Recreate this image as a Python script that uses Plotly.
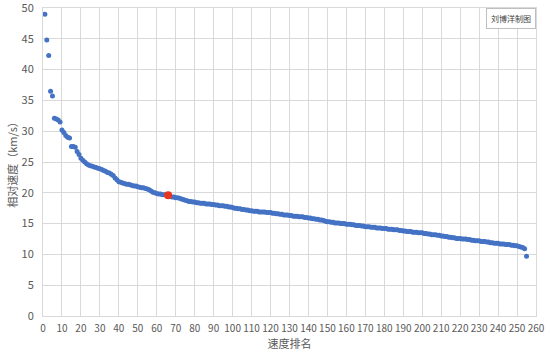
import plotly.graph_objects as go

speeds = [
    49.0, 44.8, 42.3, 36.5, 35.7, 32.1, 32.0, 31.8, 31.5, 30.2,
    29.8, 29.3, 29.0, 28.9, 27.5, 27.5, 27.4, 26.7, 26.2, 25.6,
    25.3, 25.0, 24.7, 24.5, 24.4, 24.3, 24.2, 24.1, 24.0, 23.9,
    23.8, 23.6, 23.5, 23.3, 23.2, 23.0, 22.8, 22.4, 22.1, 21.8,
    21.7, 21.6, 21.5, 21.4, 21.4, 21.3, 21.2, 21.1, 21.1, 21.0,
    20.9, 20.8, 20.8, 20.7, 20.6, 20.5, 20.3, 20.1, 20.0, 19.9,
    19.8, 19.8, 19.7, 19.7, 19.7, 19.6, 19.4, 19.3, 19.3, 19.2,
    19.2, 19.1, 19.0, 18.9, 18.8, 18.7, 18.6, 18.6, 18.5, 18.5,
    18.4, 18.4, 18.3, 18.3, 18.3, 18.2, 18.2, 18.2, 18.1, 18.1,
    18.0, 18.0, 17.9, 17.9, 17.9, 17.8, 17.8, 17.7, 17.7, 17.6,
    17.5, 17.5, 17.4, 17.4, 17.3, 17.3, 17.2, 17.2, 17.1, 17.1,
    17.0, 17.0, 17.0, 16.9, 16.9, 16.9, 16.9, 16.8, 16.8, 16.8,
    16.7, 16.7, 16.6, 16.6, 16.5, 16.5, 16.4, 16.4, 16.4, 16.3,
    16.3, 16.2, 16.2, 16.2, 16.1, 16.1, 16.1, 16.0, 16.0, 15.9,
    15.9, 15.8, 15.8, 15.7, 15.7, 15.6, 15.6, 15.5, 15.4, 15.3,
    15.3, 15.2, 15.2, 15.1, 15.1, 15.1, 15.0, 15.0, 15.0, 14.9,
    14.9, 14.9, 14.8, 14.8, 14.7, 14.7, 14.7, 14.6, 14.6, 14.5,
    14.5, 14.5, 14.4, 14.4, 14.4, 14.3, 14.3, 14.3, 14.2, 14.2,
    14.2, 14.1, 14.1, 14.1, 14.0, 14.0, 14.0, 13.9, 13.9, 13.8,
    13.8, 13.7, 13.7, 13.7, 13.6, 13.6, 13.6, 13.5, 13.5, 13.5,
    13.4, 13.4, 13.3, 13.3, 13.2, 13.2, 13.2, 13.1, 13.1, 13.0,
    13.0, 12.9, 12.9, 12.8, 12.8, 12.7, 12.7, 12.6, 12.6, 12.6,
    12.5, 12.5, 12.5, 12.4, 12.4, 12.3, 12.3, 12.2, 12.2, 12.2,
    12.1, 12.1, 12.1, 12.0, 12.0, 11.9, 11.9, 11.8, 11.8, 11.8,
    11.7, 11.7, 11.7, 11.6, 11.6, 11.6, 11.5, 11.5, 11.4, 11.4,
    11.3, 11.2, 11.1, 10.9, 9.7,
]
ranks = list(range(1, len(speeds) + 1))
highlight_rank = 66
highlight_speed = speeds[highlight_rank - 1]

x_ticks = list(range(0, 261, 10))
y_ticks = list(range(0, 51, 5))

x_title = "速度排名"
y_title = "相对速度（km/s）"
credit = "刘博洋制图"

font_family = "Noto Sans CJK SC, Noto Sans, sans-serif"
grid = "#d9d9d9"
txt = "#595959"

fig = go.Figure()
fig.add_trace(go.Scatter(
    x=ranks, y=speeds, mode="markers",
    marker=dict(size=5, color="#4472c4"),
    showlegend=False, hoverinfo="x+y",
))
fig.add_trace(go.Scatter(
    x=[highlight_rank], y=[highlight_speed], mode="markers",
    marker=dict(size=8, color="#e8351f"),
    showlegend=False, hoverinfo="x+y",
))

fig.update_layout(
    width=550, height=354,
    margin=dict(l=43, r=14, t=8, b=38, autoexpand=False),
    paper_bgcolor="white", plot_bgcolor="white",
    font=dict(family=font_family, size=11, color=txt),
    xaxis=dict(
        range=[0, 260], tickmode="array", tickvals=x_ticks,
        ticktext=[str(v) for v in x_ticks], tickangle=0,
        showgrid=True, gridcolor=grid, gridwidth=1,
        showline=True, linecolor=grid, mirror=True,
        zeroline=False, ticks="", ticklabelstandoff=3,
        ticklabeloverflow="allow",
        title=dict(text=x_title, font=dict(size=11, color=txt), standoff=4),
        tickfont=dict(size=10, color=txt),
        automargin=False,
    ),
    yaxis=dict(
        range=[0, 50], tickmode="array", tickvals=y_ticks,
        ticktext=[str(v) for v in y_ticks],
        showgrid=True, gridcolor=grid, gridwidth=1,
        showline=True, linecolor=grid, mirror=True,
        zeroline=False, ticks="", ticklabelstandoff=6,
        ticklabeloverflow="allow",
        title=dict(text=y_title, font=dict(size=11, color=txt), standoff=1),
        tickfont=dict(size=11, color=txt),
        automargin=False,
    ),
    annotations=[dict(
        text=credit, xref="paper", yref="paper", x=1.0, y=1.0,
        xanchor="right", yanchor="top", showarrow=False,
        font=dict(size=8, color="#404040"),
        bgcolor="white", bordercolor="#bfbfbf", borderwidth=1, borderpad=4,
    )],
)

fig.write_html("out.html")
